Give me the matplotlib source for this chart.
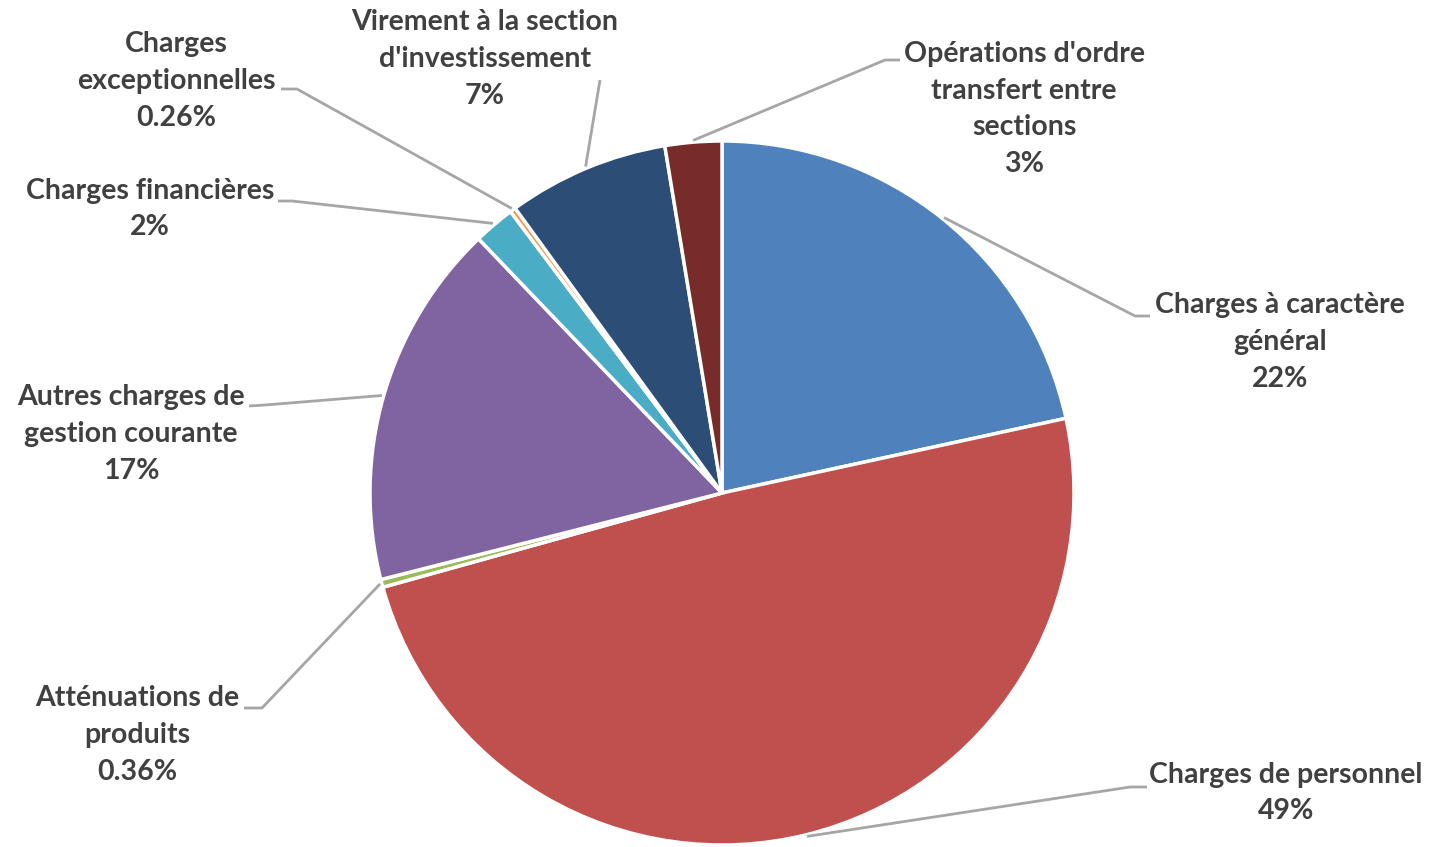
import numpy as np
import matplotlib.pyplot as plt

W, H = 1431, 847

# Data (clockwise from 12 o'clock)
categories = [
    "Charges à caractère\ngénéral",
    "Charges de personnel",
    "Atténuations de\nproduits",
    "Autres charges de\ngestion courante",
    "Charges financières",
    "Charges\nexceptionnelles",
    "Virement à la section\nd'investissement",
    "Opérations d'ordre\ntransfert entre\nsections",
]
values = [21.6, 49.1, 0.36, 16.8, 1.9, 0.26, 7.4, 2.6]
pct_labels = ["22%", "49%", "0.36%", "17%", "2%", "0.26%", "7%", "3%"]

colors = ["#4F81BD", "#C0504D", "#9BBB59", "#8064A2",
          "#4BACC6", "#F79646", "#2C4D75", "#772C2A"]

# Layout (pixel coords, y from top)
center = (722, 493)
radius = 352
label_pos = [(1280, 342), (1286, 793), (137, 735), (131, 434),
             (150, 209), (176, 81), (485, 59), (1024, 109)]
# leader line: elbow point, end point near the text
leader = [((1135, 316), (1150, 316)),
          ((1130, 787), (1147, 787)),
          ((262, 708), (244, 708)),
          ((265, 405), (249, 406)),
          ((292, 201), (278, 201)),
          ((297, 89), (281, 89)),
          ((600, 80), (600, 80)),
          ((885, 60), (900, 60))]

fig = plt.figure(figsize=(W / 100, H / 100), dpi=100)
ax = fig.add_axes([0, 0, 1, 1])

wedges, _ = ax.pie(values, colors=colors, startangle=90, counterclock=False,
                   center=(center[0], H - center[1]), radius=radius,
                   wedgeprops=dict(edgecolor="white", linewidth=2.5))
ax.set_xlim(0, W)
ax.set_ylim(0, H)
ax.set_aspect("equal")
ax.axis("off")

for w, name, pct, (lx, ly), (elbow, end) in zip(wedges, categories, pct_labels,
                                                label_pos, leader):
    mid = np.deg2rad((w.theta1 + w.theta2) / 2)
    px = center[0] + radius * 1.005 * np.cos(mid)
    py = H - center[1] + radius * 1.005 * np.sin(mid)
    ax.plot([px, elbow[0], end[0]], [py, H - elbow[1], H - end[1]],
            color="#A6A6A6", lw=2, solid_capstyle="butt")
    ax.text(lx, H - ly, name + "\n" + pct, ha="center", va="center",
            fontsize=20.5, fontweight="bold", color="#404040",
            family="Lato", linespacing=1.52)

fig.savefig("out.png", dpi=100)
